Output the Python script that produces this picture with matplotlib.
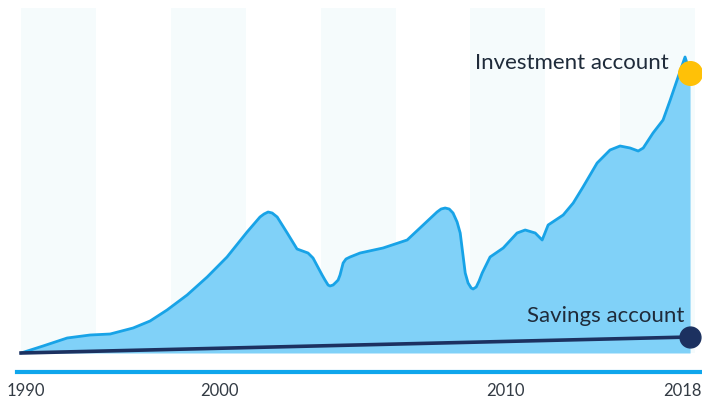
import matplotlib.pyplot as plt
import numpy as np

# Valores (anos e valor relativo da conta)
years = [1990.0, 1990.92, 1991.93, 1992.89, 1993.73, 1994.69, 1995.40, 1996.11,
         1996.95, 1997.79, 1998.62, 1999.46, 2000.00, 2000.17, 2000.34, 2000.51,
         2000.72, 2001.14, 2001.55, 2002.01, 2002.22, 2002.60, 2002.72, 2002.85,
         2002.93, 2003.06, 2003.19, 2003.27, 2003.35, 2003.48, 2003.60, 2003.77,
         2004.19, 2005.15, 2006.16, 2006.83, 2007.41, 2007.58, 2007.75, 2007.92,
         2008.08, 2008.25, 2008.38, 2008.59, 2008.71, 2008.84, 2008.92, 2009.05,
         2009.17, 2009.30, 2009.63, 2010.18, 2010.76, 2011.10, 2011.52, 2011.81,
         2012.06, 2012.69, 2013.11, 2013.52, 2014.11, 2014.65, 2015.07, 2015.49,
         2015.83, 2016.04, 2016.45, 2016.87, 2017.17, 2017.50, 2017.79, 2018.0]
investment = [0, 7, 15, 18, 19, 25, 32, 43,
              58, 76, 96, 121, 136, 139, 141, 140,
              136, 120, 104, 100, 95, 78, 73, 68,
              67, 68, 71, 73, 78, 90, 94, 96,
              100, 105, 113, 128, 141, 144, 145, 144,
              140, 131, 120, 80, 70, 65, 64, 66,
              72, 80, 96, 105, 120, 123, 120, 113,
              128, 138, 150, 166, 190, 203, 207, 205,
              202, 205, 220, 233, 253, 276, 296, 280]

savings_years = [1990, 2000, 2010, 2018]
savings = [0, 5.7, 11.4, 16]

tick_pos = [1990.2, 1998.3, 2010.26, 2017.7]
tick_labels = ['1990', '2000', '2010', '2018']

FONT = 'Lato'
fill_color = '#80D1F8'
line_color = '#18A3E7'
navy = '#1C3160'
gold = '#FFC107'
axis_blue = '#0FA6EC'
text_color = '#1F2B3A'

fig = plt.figure(figsize=(7.02, 4.09), dpi=100)
ax = fig.add_axes([17 / 702, 37 / 409, 1 - 17 / 702, 372 / 409])
ax.set_xlim(1989.83, 2018.5)
ax.set_ylim(-19, 353)

# Faixas verticais de fundo
edges = np.linspace(1990.0, 2018.21, 10)
for i in range(0, 9, 2):
    ax.fill_between([edges[i], edges[i + 1]], 0, 345, color='#F5FBFC', lw=0, zorder=0)

# Área e linha do investimento
ax.fill_between(years, investment, 0, color=fill_color, lw=0, zorder=1)
ax.plot(years, investment, color=line_color, lw=2.0, zorder=2,
        solid_capstyle='round', solid_joinstyle='round')

# Poupança
ax.plot(savings_years, savings, color=navy, lw=2.6, zorder=3)

# Marcadores finais
ax.plot(years[-1], investment[-1], 'o', ms=17, color=gold, zorder=5, clip_on=False)
ax.plot(savings_years[-1], savings[-1], 'o', ms=15, color=navy, zorder=5, clip_on=False)

ax.annotate('Investment account', (years[-1], investment[-1]), xytext=(-15, 7),
            textcoords='offset points', ha='right', va='center',
            fontsize=16, family=FONT, color=text_color, zorder=6)
ax.annotate('Savings account', (savings_years[-1], savings[-1]), xytext=(-4, 15),
            textcoords='offset points', ha='right', va='center',
            fontsize=16, family=FONT, color=text_color, zorder=6)

# Eixo inferior
for s in ['top', 'right', 'left']:
    ax.spines[s].set_visible(False)
ax.spines['bottom'].set_color(axis_blue)
ax.spines['bottom'].set_linewidth(3)
ax.set_yticks([])
ax.set_xticks(tick_pos, tick_labels)
ax.tick_params(axis='x', length=0, pad=8, labelsize=12, labelcolor='#333B44')
for lbl in ax.get_xticklabels():
    lbl.set_family(FONT)

fig.savefig('out.png', dpi=100)
